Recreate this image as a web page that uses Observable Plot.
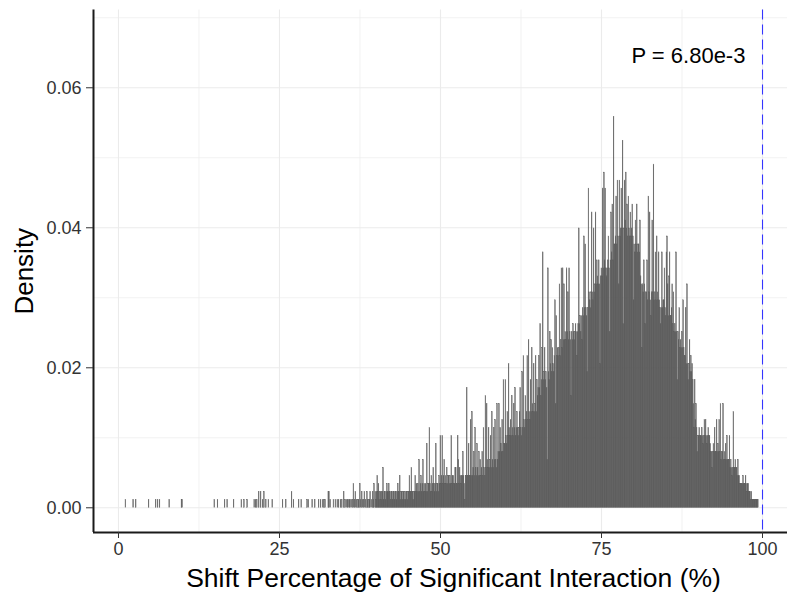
<!DOCTYPE html>
<html>
<head>
<meta charset="utf-8">
<script src="https://cdn.jsdelivr.net/npm/d3@7"></script>
<script src="https://cdn.jsdelivr.net/npm/@observablehq/plot@0.6"></script>
<style>
  html, body { margin: 0; padding: 0; background: #fff; }
  #chart svg { display: block; }
</style>
</head>
<body>
<div id="chart"></div>
<script>
// Histogram of shift percentages (bin width 0.1), stored as counts per bin.
const binWidth = 0.1;
const densityPerCount = 0.00114;

// Isolated bins in the sparse left tail: bin start and count.
const sparseStarts = [1.1, 2.3, 2.7, 4.7, 5.8, 6.1, 6.4, 7.9, 9.8, 9.9,
  14.9, 15.4, 16.5, 16.9, 17.9, 19.1, 19.5, 20.0, 21.1, 21.3, 21.5, 21.8, 22.1, 22.4, 22.6, 22.9,
  23.3, 23.9, 25.5, 26.0, 26.9, 27.2, 28.0, 28.4, 29.3, 29.5, 30.1, 30.5, 31.1, 31.4, 31.7, 31.9,
  32.1, 32.6, 32.7, 32.9, 33.4, 33.7, 34.0, 34.2, 34.5, 34.7];
const sparseCounts = [1, 1, 1, 1, 1, 1, 1, 1, 1, 1,
  1, 1, 1, 1, 1, 1, 1, 1, 1, 1, 1, 2, 2, 1, 2, 1,
  1, 1, 1, 1, 2, 1, 1, 1, 1, 1, 1, 1, 1, 1, 1, 1,
  1, 2, 2, 1, 1, 1, 1, 1, 1, 1];

// Contiguous bins from 35.0 upward, ten bins per row.
const denseStart = 35.0;
const denseCounts = [
  2,0,1,0,1,0,1,1,0,1,     // 35
  1,0,1,0,1,3,0,1,2,0,     // 36
  1,0,1,1,0,3,1,0,2,1,     // 37
  0,1,2,0,1,0,2,1,0,1,     // 38
  1,2,0,1,0,2,1,3,0,2,     // 39
  1,2,4,2,3,1,2,2,1,2,     // 40
  2,5,1,2,2,1,2,3,2,2,     // 41
  3,2,2,1,2,2,1,2,2,1,     // 42
  2,2,1,2,3,2,2,4,1,2,     // 43
  2,1,2,2,1,2,1,2,2,1,     // 44
  2,2,4,2,2,5,2,2,1,2,     // 45
  2,4,2,3,2,3,2,6,2,3,     // 46
  4,2,3,6,2,3,2,3,2,8,     // 47
  2,3,3,10,3,2,4,2,3,5,    // 48
  3,2,3,8,2,3,3,2,4,3,     // 49
  9,3,4,9,3,4,6,3,4,3,     // 50
  5,3,4,4,3,4,3,9,3,4,     // 51
  4,3,3,5,5,3,3,9,6,3,     // 52
  5,4,3,4,4,7,4,3,1,4,     // 53
  4,15,4,4,8,4,4,11,4,12,  // 54
  4,5,7,4,10,5,4,8,5,4,    // 55
  7,4,6,4,5,7,4,10,5,4,    // 56
  14,5,13,6,5,10,5,6,9,5,  // 57
  12,6,5,10,6,11,6,5,13,6, // 58
  7,13,7,10,8,7,11,7,16,8, // 59
  8,16,9,8,12,9,18,10,9,11,      // 60
  9,14,10,9,13,10,15,9,10,12,    // 61
  10,9,10,12,15,10,9,17,10,19,   // 62
  11,10,14,11,12,19,11,21,12,11, // 63
  16,12,20,13,12,18,12,13,19,12, // 64
  16,14,15,19,15,23,14,16,20,32, // 65
  16,17,20,16,17,15,6,30,17,16,  // 66
  22,18,21,17,20,18,17,19,26,13, // 67
  24,19,20,19,20,28,19,21,30,20, // 68
  30,21,28,21,22,21,30,22,27,21, // 69
  30,22,21,14,22,21,23,22,21,22, // 70
  23,22,19,22,23,35,23,24,22,24, // 71
  21,25,24,34,25,33,25,24,17,25, // 72
  40,27,26,25,27,37,27,26,35,27, // 73
  28,37,28,31,29,28,31,28,18,29, // 74
  30,29,40,30,42,31,40,30,29,30, // 75
  31,34,30,22,31,37,32,38,31,49, // 76
  33,33,34,39,33,41,34,28,41,34, // 77
  35,40,35,46,23,35,41,36,42,35, // 78
  38,34,39,35,34,37,34,35,38,34, // 79
  26,33,32,36,33,38,32,33,33,32, // 80
  36,29,28,20,28,27,31,28,23,27, // 81
  27,31,26,39,27,37,26,24,27,36, // 82
  27,43,26,27,32,26,34,27,26,32, // 83
  26,25,23,25,32,25,26,26,30,25, // 84
  24,32,34,28,24,29,32,24,24,25, // 85
  28,23,27,22,23,22,32,22,16,22, // 86
  21,25,20,21,20,22,20,26,20,19, // 87
  19,25,18,28,18,16,18,21,17,19, // 88
  17,18,16,13,10,16,11,13,10,7,  // 89
  9,9,10,9,9,9,10,9,8,9,         // 90
  11,9,11,9,8,9,10,9,9,8,        // 91
  7,7,5,7,8,7,10,7,7,11,         // 92
  7,8,7,11,7,13,6,7,7,13,        // 93
  6,7,6,8,6,9,6,6,6,9,           // 94
  5,6,5,4,5,12,5,5,6,5,          // 95
  5,4,6,4,4,3,3,3,3,3,           // 96
  4,3,3,3,4,3,2,3,3,2,           // 97
  2,2,1,2,1,1,1,1,1,1,           // 98
  1,1,1,1                        // 99
];

const xTicks = [0, 25, 50, 75, 100];
const xMinorTicks = [12.5, 37.5, 62.5, 87.5];
const yTicks = [0, 0.02, 0.04, 0.06];
const yMinorTicks = [0.01, 0.03, 0.05, 0.07];
const observedShift = 100;
const pLabel = "P = 6.80e-3";
const xTitle = "Shift Percentage of Significant Interaction (%)";
const yTitle = "Density";

// Build the bin table.
const bins = [];
sparseStarts.forEach((s, i) => bins.push({x1: s, x2: s + binWidth, density: sparseCounts[i] * densityPerCount}));
denseCounts.forEach((c, i) => {
  const s = Math.round((denseStart + i * binWidth) * 10) / 10;
  if (c > 0) bins.push({x1: s, x2: s + binWidth, density: c * densityPerCount});
});

const xDomain = [-3.88, 103.88];
const yDomain = [-0.00353, 0.07111];
const gridColor = "#ebebeb";
const inkColor = "#333333";
const barColor = "#595959";

const chart = Plot.plot({
  width: 787,
  height: 603,
  marginLeft: 93,
  marginRight: 0,
  marginTop: 9.5,
  marginBottom: 71,
  style: {fontFamily: "'Liberation Sans', Arial, Helvetica, sans-serif", background: "#fff", overflow: "visible"},
  x: {domain: xDomain, axis: null},
  y: {domain: yDomain, axis: null},
  marks: [
    Plot.ruleX(xMinorTicks, {stroke: gridColor, strokeWidth: 0.7}),
    Plot.ruleY(yMinorTicks, {stroke: gridColor, strokeWidth: 0.7}),
    Plot.ruleX(xTicks, {stroke: gridColor, strokeWidth: 1.1}),
    Plot.ruleY(yTicks, {stroke: gridColor, strokeWidth: 1.1}),
    Plot.rectY(bins, {x1: "x1", x2: "x2", y: "density", fill: barColor, stroke: barColor, strokeWidth: 0.4, inset: 0, shapeRendering: "auto"}),
    Plot.ruleX([observedShift], {stroke: "#3535ff", strokeWidth: 1.1, strokeDasharray: "10,5"}),
    Plot.ruleX([xDomain[0]], {stroke: "#1a1a1a", strokeWidth: 2}),
    Plot.ruleY([yDomain[0]], {stroke: "#1a1a1a", strokeWidth: 2}),
    Plot.axisX(xTicks, {tickSize: 6, tickPadding: 4, fontSize: 18, color: inkColor, label: null}),
    Plot.axisY(yTicks, {tickSize: 7, tickPadding: 5, fontSize: 18, color: inkColor, tickFormat: d3.format(".2f"), label: null}),
    Plot.text([xTitle], {frameAnchor: "bottom", dy: 54, dx: 13, fontSize: 26.5, fill: "#000"}),
    Plot.text([yTitle], {frameAnchor: "left", textAnchor: "middle", rotate: -90, dx: -69, fontSize: 26, fill: "#000"}),
    Plot.text([pLabel], {x: observedShift - 11.5, y: 0.0645, fontSize: 22, fill: "#000"})
  ]
});
document.getElementById("chart").appendChild(chart);
</script>
</body>
</html>
